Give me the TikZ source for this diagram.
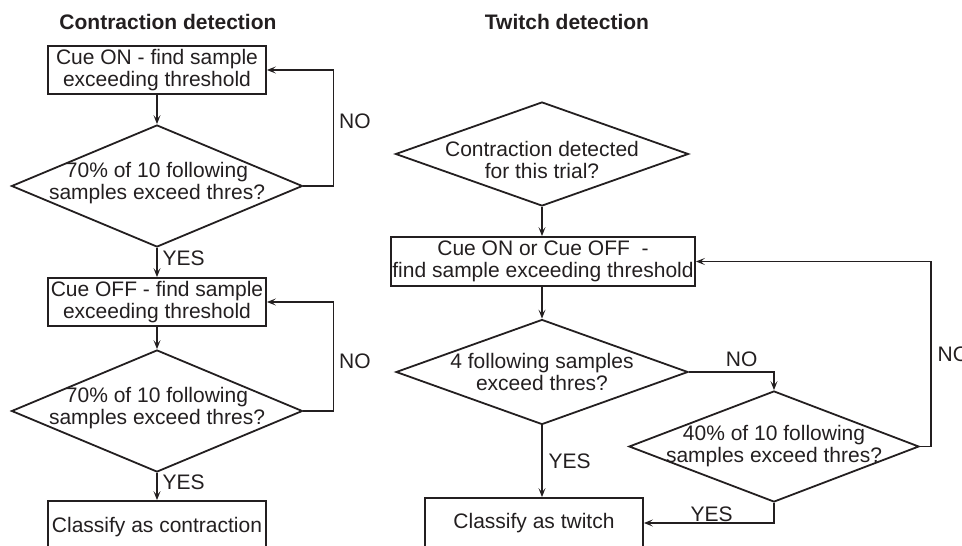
\documentclass[tikz,border=0pt]{standalone}
\usepackage{fontspec}
\setmainfont{Liberation Sans}
\usetikzlibrary{arrows.meta, shapes.geometric}
\definecolor{cink}{HTML}{231F20}
\tikzset{
  every picture/.style={line width=1.8pt, font=\fontsize{21}{22}\selectfont},
  box/.style={draw=cink, text=cink, align=center, inner sep=0pt, minimum width=218pt, minimum height=48pt},
  decision/.style={diamond, draw=cink, inner sep=0pt},
  txt/.style={text=cink, align=center, inner sep=0pt},
  arrow/.style={-{Stealth[length=9pt, width=7pt, inset=4pt]}, draw=cink, line width=1.4pt},
  title/.style={font=\fontsize{21}{22}\selectfont\bfseries, text=cink},
  lbl/.style={text=cink, inner sep=0pt},
}

\begin{document}
\begin{tikzpicture}[x=1pt, y=-1pt]
  \useasboundingbox (0,0) rectangle (962,546);
  \clip (0,0) rectangle (962,546);
  % contraction detection
  \node[title] (t1) at (168,22) {Contraction detection};
  \node[box] (on) at (157,70) {Cue ON - find sample\\exceeding threshold};
  \node[decision, minimum width=291pt, minimum height=122pt] (q1) at (157,186) {};
  \node[txt, yshift=3pt] at (q1) {70\% of 10 following\\samples exceed thres?};
  \draw[arrow] (on) -- (q1);
  \draw[arrow] (q1.east) -- ++(30,0) |- node[lbl, right=5pt, pos=0.28] {NO} (on.east);
  \node[box] (off) at (157,302) {Cue OFF - find sample\\exceeding threshold};
  \draw[arrow] (q1) -- node[lbl, right=5pt, pos=0.35] {YES} (off);
  \node[decision, minimum width=291pt, minimum height=122pt] (q2) at (157,411) {};
  \node[txt, yshift=3pt] at (q2) {70\% of 10 following\\samples exceed thres?};
  \draw[arrow] (off) -- (q2);
  \draw[arrow] (q2.east) -- ++(30,0) |- node[lbl, right=5pt, pos=0.23] {NO} (off.east);
  \node[box, minimum height=52pt] (con) at (157,527) {Classify as contraction};
  \draw[arrow] (q2) -- node[lbl, right=5pt, pos=0.35] {YES} (con);
  % twitch detection
  \node[title] (t2) at (567,22) {Twitch detection};
  \node[decision, minimum width=293pt, minimum height=104pt] (q0) at (542,154) {};
  \node[txt, yshift=-6pt] at (q0) {Contraction detected\\for this trial?};
  \node[box, minimum width=304pt, minimum height=49pt] (any) at (543,261.5) {Cue ON or Cue OFF\ \ -\\find sample exceeding threshold};
  \draw[arrow] (q0.south) -- (q0.south |- any.north);
  \node[decision, minimum width=292pt, minimum height=105pt] (q3) at (542,372) {};
  \node[txt] at (q3) {4 following samples\\exceed thres?};
  \draw[arrow] (q3.north |- any.south) -- (q3.north);
  \node[decision, minimum width=290pt, minimum height=111pt] (q4) at (774,446.5) {};
  \node[txt] at (q4) {40\% of 10 following\\samples exceed thres?};
  \draw[arrow] (q3.east) -| node[lbl, above=5pt, pos=0.31] {NO} (q4.north);
  \draw[arrow] (q4.east) -- ++(11,0) |- node[lbl, right=6pt, pos=0.25] {NO} (any.east);
  \node[box, minimum height=50pt] (tw) at (534,523) {Classify as twitch};
  \draw[arrow] (q3.south) -- node[lbl, right=6pt] {YES} (q3.south |- tw.north);
  \draw[arrow] (q4.south) |- node[lbl, above=1pt, pos=0.74] {YES} (tw.east);
\end{tikzpicture}
\end{document}
